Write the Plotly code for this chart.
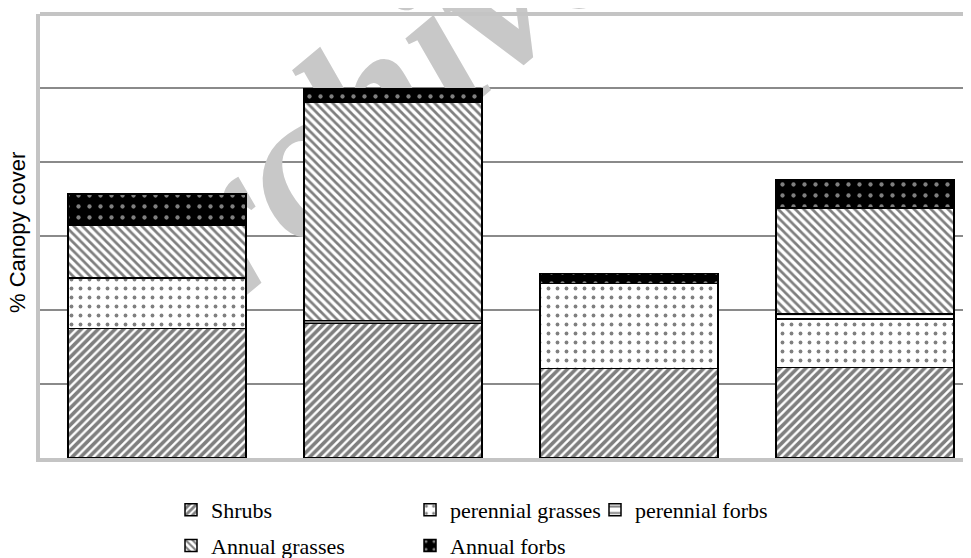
import plotly.graph_objects as go

# ---- data (y-axis has no tick labels, gridlines every 1 unit) ----
sites = [0, 1, 2, 3]
shrubs = [1.75, 1.82, 1.21, 1.22]
perennial_grasses = [0.68, 0.0, 1.15, 0.66]
perennial_forbs = [0.0, 0.035, 0.0, 0.068]
annual_grasses = [0.72, 2.95, 0.0, 1.43]
annual_forbs = [0.42, 0.18, 0.135, 0.38]

series_names = ["Shrubs", "perennial grasses", "perennial forbs", "Annual grasses", "Annual forbs"]
series_values = [shrubs, perennial_grasses, perennial_forbs, annual_grasses, annual_forbs]
y_title = "% Canopy cover"

styles = [
    dict(shape="/", size=6, solidity=0.6, fgcolor="black", bgcolor="white"),
    dict(shape=".", size=9, solidity=0.14, fgcolor="black", bgcolor="white"),
    dict(shape="-", size=8, solidity=0.3, fgcolor="black", bgcolor="white"),
    dict(shape="\\", size=6, solidity=0.45, fgcolor="black", bgcolor="white"),
    dict(shape=".", size=11, solidity=0.12, fgcolor="white", bgcolor="black"),
]
legend_of = ["legend", "legend2", "legend3", "legend", "legend2"]

# the page body adds an 8 px offset, so the figure is 8 px smaller each way
W, H = 963, 550
ml, mt, mb = 32, 6, 100
pw, ph = W - ml, H - mt - mb

fig = go.Figure()

# watermark (drawn first so the bars cover it)
fig.add_trace(go.Bar(
    x=[0.765], y=[0.2], base=[4.36], width=[0.001],
    text=["Archive"], textposition="inside", insidetextanchor="middle",
    constraintext="none", textangle=-40,
    textfont=dict(family="Liberation Serif", size=206, color="#c8c8c8",
                  weight="bold", style="italic"),
    marker=dict(color="rgba(0,0,0,0)", line=dict(width=0)),
    showlegend=False, hoverinfo="skip", cliponaxis=False,
))

for i, (name, vals) in enumerate(zip(series_names, series_values)):
    fig.add_trace(go.Bar(
        x=sites, y=vals, name=name, width=0.754,
        marker=dict(pattern=styles[i], line=dict(color="black", width=1.5)),
        legend=legend_of[i], legendgroup=name,
    ))

legend_common = dict(
    font=dict(family="Liberation Serif", size=22, color="black"),
    orientation="v", xanchor="left", yanchor="top",
    xref="container", yref="container",
    bgcolor="rgba(0,0,0,0)", tracegroupgap=4, itemclick=False,
)
ly = 1 - 481 / H

fig.update_layout(
    width=W, height=H,
    margin=dict(l=ml, r=0, t=mt, b=mb, autoexpand=False),
    paper_bgcolor="white", plot_bgcolor="white",
    barmode="stack",
    showlegend=True,
    xaxis=dict(range=[-0.496, 3.449], showticklabels=False, ticks="",
               showgrid=False, zeroline=False, automargin=False,
               showline=True, linecolor="#c4c4c4", linewidth=4),
    yaxis=dict(range=[0, 6], dtick=1, showticklabels=False, ticks="",
               showgrid=True, gridcolor="#8a8a8a", gridwidth=1.5,
               zeroline=False, automargin=False,
               showline=True, linecolor="#c4c4c4", linewidth=4),
    legend=dict(x=163 / W, y=ly, **legend_common),
    legend2=dict(x=402 / W, y=ly, **legend_common),
    legend3=dict(x=587 / W, y=ly, **legend_common),
    shapes=[dict(type="line", xref="paper", yref="paper", x0=0, x1=1, y0=1, y1=1,
                 line=dict(color="#c4c4c4", width=4))],
    annotations=[dict(text=y_title, textangle=-90, showarrow=False,
                      xref="paper", yref="paper",
                      x=(10 - ml) / pw, y=(450 - 225) / ph,
                      xanchor="center", yanchor="middle",
                      font=dict(family="Liberation Sans", size=22, color="black"))],
)

fig.write_html("out.html")
